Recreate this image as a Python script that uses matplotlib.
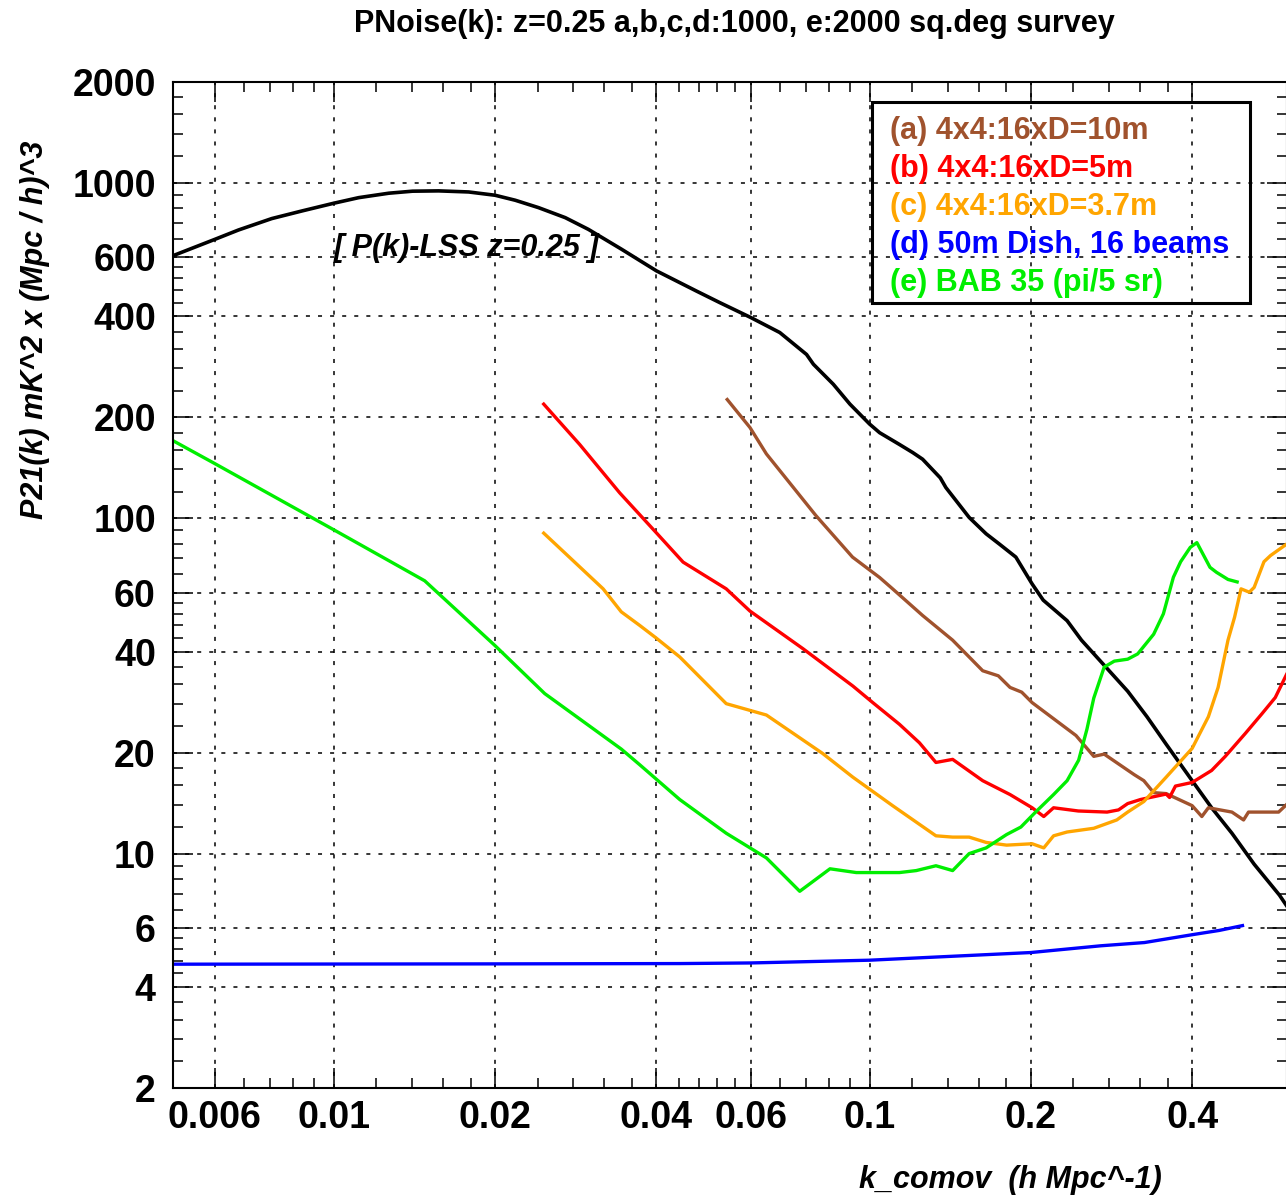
import matplotlib
matplotlib.use("Agg")
import matplotlib.pyplot as plt
from matplotlib.ticker import FixedLocator, NullFormatter
from matplotlib.patches import Rectangle

plt.rcParams['font.family'] = ['Liberation Sans', 'DejaVu Sans']
plt.rcParams['font.weight'] = 'bold'
plt.rcParams['lines.scale_dashes'] = False

# ---------------- data ----------------
k_lss = [0.005, 0.006, 0.00664, 0.00766, 0.00872, 0.01, 0.01113, 0.01267, 0.01403,
         0.01569, 0.01785, 0.02, 0.02181, 0.02411, 0.02704, 0.02987, 0.03446, 0.04,
         0.04752, 0.05248, 0.06, 0.06799, 0.07627, 0.07855, 0.08557, 0.0919, 0.1,
         0.1044, 0.1137, 0.1204, 0.1256, 0.1355, 0.1388, 0.1534, 0.165, 0.1748,
         0.1875, 0.2011, 0.2109, 0.2337, 0.2486, 0.2697, 0.3032, 0.3294, 0.3577,
         0.4, 0.4349, 0.4746, 0.5221, 0.5821, 0.6]
p_lss = [606, 679, 724, 783, 825, 870, 904, 932, 945,
         947, 940, 919, 888, 844, 788, 727, 634, 547,
         476, 440, 397, 358, 308, 288, 251, 219, 191,
         180, 166, 157, 150, 132, 123.5, 100.6, 89.9, 83.7,
         76.6, 63.7, 57.0, 49.5, 43.3, 37.5, 30.5, 25.6, 21.2,
         16.5, 13.7, 11.5, 9.3, 7.52, 7.0]

k_a = [0.05424, 0.05979, 0.06418, 0.07939, 0.09293, 0.1044, 0.1104, 0.1256, 0.1429,
       0.1626, 0.1739, 0.1829, 0.1923, 0.2011, 0.2428, 0.2621, 0.2741, 0.3118,
       0.325, 0.339, 0.3577, 0.4, 0.417, 0.4289, 0.4746, 0.4989, 0.5096, 0.58, 0.6]
p_a = [226, 186.6, 155.6, 101.9, 76.6, 66.6, 61.6, 51.3, 43.3,
       35.1, 33.9, 31.3, 30.3, 28.2, 22.5, 19.5, 19.8, 17.2,
       16.5, 15.2, 15.1, 13.9, 12.9, 13.7, 13.3, 12.6, 13.3, 13.3, 14.0]

k_b = [0.02465, 0.02877, 0.03418, 0.04, 0.04487, 0.05401, 0.05979, 0.07517, 0.09308,
       0.1014, 0.1137, 0.1239, 0.133, 0.1429, 0.1626, 0.1829, 0.2011, 0.2114,
       0.2205, 0.2452, 0.2775, 0.2915, 0.3032, 0.3205, 0.3577, 0.363, 0.3723,
       0.4, 0.4349, 0.4612, 0.5024, 0.5396, 0.5717, 0.6]
p_b = [219, 166, 119, 90.5, 74.0, 61.6, 52.9, 40.8, 31.6,
       28.2, 24.3, 21.4, 18.7, 19.1, 16.5, 15.0, 13.7, 12.9,
       13.7, 13.4, 13.3, 13.5, 14.1, 14.5, 15.05, 14.7, 15.9,
       16.3, 17.7, 19.5, 22.8, 26.1, 29.2, 34.2]

k_c = [0.02465, 0.03182, 0.0344, 0.03725, 0.04, 0.04422, 0.05401, 0.06418, 0.0817,
       0.09308, 0.1104, 0.133, 0.1429, 0.1534, 0.165, 0.1802, 0.2011, 0.2114,
       0.2205, 0.2337, 0.2621, 0.2893, 0.3032, 0.325, 0.3577, 0.4, 0.4289,
       0.4472, 0.4666, 0.48, 0.4935, 0.5113, 0.5221, 0.5446, 0.5601, 0.6]
p_c = [90.3, 61.6, 52.6, 47.9, 43.9, 38.6, 28.0, 25.9, 19.9,
       16.9, 13.9, 11.3, 11.2, 11.2, 10.8, 10.6, 10.7, 10.4,
       11.3, 11.6, 11.9, 12.6, 13.3, 14.3, 16.9, 20.6, 25.6,
       31.3, 43.3, 50.7, 61.6, 60.2, 62.2, 74.2, 77.4, 83.7]

k_d = [0.005, 0.02, 0.0442, 0.06, 0.1, 0.2, 0.27, 0.3259, 0.4, 0.4491, 0.4966]
p_d = [4.68, 4.69, 4.70, 4.72, 4.81, 5.07, 5.31, 5.43, 5.73, 5.9, 6.1]

k_e = [0.005, 0.006, 0.01, 0.01478, 0.02, 0.02476, 0.0344, 0.03725, 0.04422,
       0.05401, 0.06418, 0.07407, 0.08436, 0.09444, 0.1137, 0.1222, 0.133, 0.1429,
       0.1534, 0.165, 0.1802, 0.1916, 0.2041, 0.2205, 0.2337, 0.2456, 0.2545,
       0.2621, 0.2741, 0.2863, 0.3032, 0.3165, 0.339, 0.3535, 0.369, 0.3807,
       0.3968, 0.4082, 0.4319, 0.4441, 0.4666, 0.4853]
p_e = [170.7, 145.5, 92.4, 65.1, 41.7, 30.0, 20.5, 18.4, 14.5,
       11.5, 9.71, 7.72, 9.01, 8.78, 8.78, 8.9, 9.2, 8.9,
       10.0, 10.4, 11.4, 12.0, 13.3, 15.0, 16.5, 19.0, 23.5,
       29.1, 36.0, 37.5, 38.0, 39.4, 45.1, 51.9, 66.7, 74.2,
       81.9, 84.6, 71.4, 69.0, 65.7, 64.6]

labels = ["(a) 4x4:16xD=10m", "(b) 4x4:16xD=5m", "(c) 4x4:16xD=3.7m",
          "(d) 50m Dish, 16 beams", "(e) BAB 35 (pi/5 sr)"]
colors = ["#a0522d", "#ff0000", "#ffa500", "#0000ff", "#00ee00"]

x_major = [0.006, 0.01, 0.02, 0.04, 0.06, 0.1, 0.2, 0.4]
x_major_labels = ["0.006", "0.01", "0.02", "0.04", "0.06", "0.1", "0.2", "0.4"]
y_major = [2, 4, 6, 10, 20, 40, 60, 100, 200, 400, 600, 1000, 2000]
y_major_labels = [str(v) for v in y_major]


def sub_ticks(majors):
    out = []
    for a, b in zip(majors[:-1], majors[1:]):
        step = (b - a) / 5.0
        out += [a + i * step for i in range(1, 5)]
    return out


# ---------------- figure ----------------
W, H = 1286, 1198
fig = plt.figure(figsize=(W / 100, H / 100), dpi=100)
ax = fig.add_axes([172.5 / W, (H - 1088) / H, (1286.5 - 172.5) / W, (1088 - 82) / H])
ax.set_xscale('log')
ax.set_yscale('log')
ax.set_xlim(0.005, 0.6)
ax.set_ylim(2, 2000)

ax.plot(k_lss, p_lss, color='black', lw=2.6)
series = [(k_a, p_a), (k_b, p_b), (k_c, p_c), (k_d, p_d), (k_e, p_e)]
handles = []
for (kk, pp), lab, col in zip(series, labels, colors):
    h, = ax.plot(kk, pp, color=col, lw=2.4, label=lab)
    handles.append(h)

ax.xaxis.set_major_locator(FixedLocator(x_major))
ax.xaxis.set_minor_locator(FixedLocator(sub_ticks(x_major)))
ax.set_xticklabels(x_major_labels)
ax.xaxis.set_minor_formatter(NullFormatter())
ax.yaxis.set_major_locator(FixedLocator(y_major))
ax.yaxis.set_minor_locator(FixedLocator(sub_ticks(y_major)))
ax.set_yticklabels(y_major_labels)
ax.yaxis.set_minor_formatter(NullFormatter())

ax.tick_params(which='both', direction='in', top=True, right=True, width=1.1, colors='black')
ax.tick_params(which='major', length=14.4)
ax.tick_params(which='minor', length=7.2)
ax.tick_params(axis='x', which='major', labelsize=27, pad=9)
ax.tick_params(axis='y', which='major', labelsize=27, pad=12)
for lab in ax.get_xticklabels() + ax.get_yticklabels():
    lab.set_fontweight('bold')

ax.grid(which='major', color='black', linestyle=(0, (2.9, 5.8)), linewidth=1.1)
for sp in ax.spines.values():
    sp.set_linewidth(1.5)

ax.text(0.01, 640, "[ P(k)-LSS z=0.25 ]", fontsize=22, fontstyle='italic',
        fontweight='bold', ha='left', va='center')

# legend: text entries only, with a separate thick frame
leg = ax.legend(handles=handles, labels=labels, loc='upper left',
                bbox_to_anchor=(890 / W, 1 - 116 / H), bbox_transform=fig.transFigure,
                borderaxespad=0, borderpad=0, handlelength=0, handletextpad=0,
                labelcolor='linecolor', frameon=False, labelspacing=0.26,
                prop=dict(size=22, weight='bold'))
for h in leg.legend_handles:
    h.set_visible(False)
fig.patches.append(Rectangle((872 / W, 1 - 303 / H), (1250 - 872) / W, (303 - 102) / H,
                             transform=fig.transFigure, fill=False,
                             edgecolor='black', linewidth=2.2, zorder=5))

fig.text(734 / W, 1 - 24 / H, "PNoise(k): z=0.25 a,b,c,d:1000, e:2000 sq.deg survey",
         fontsize=22, fontweight='bold', ha='center', va='center')
fig.text(1010 / W, 1 - 1180 / H, "k_comov  (h Mpc^-1)", fontsize=22,
         fontweight='bold', fontstyle='italic', ha='center', va='center')
fig.text(35 / W, 1 - 330 / H, "P21(k) mK^2 x (Mpc / h)^3", fontsize=22,
         fontweight='bold', fontstyle='italic', rotation=90, ha='center', va='center')

fig.savefig("out.png", dpi=100)
